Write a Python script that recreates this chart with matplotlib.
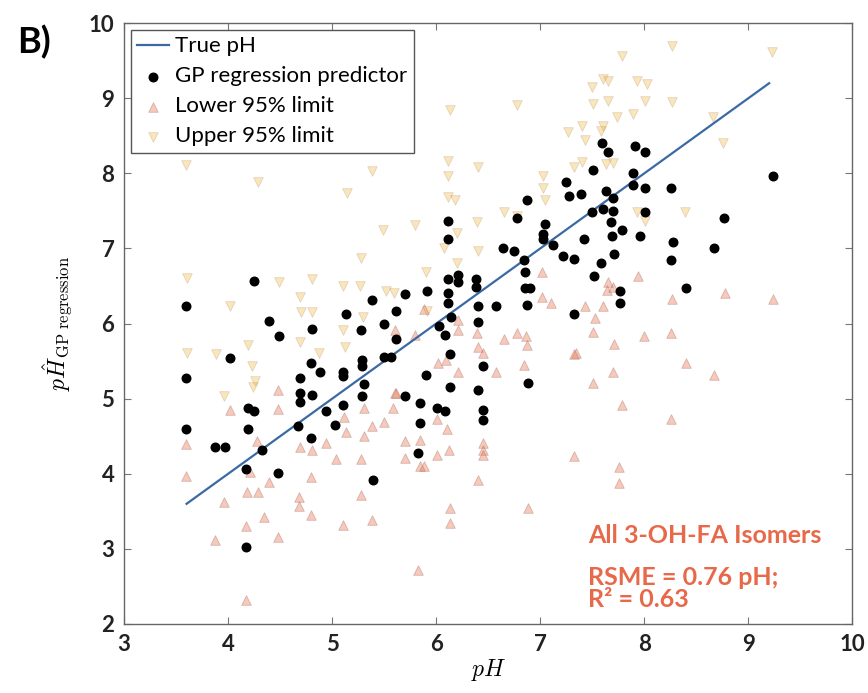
import matplotlib
matplotlib.use("Agg")
import matplotlib.pyplot as plt

plt.rcParams['mathtext.fontset'] = 'cm'

# true pH line
true_ph = [3.6, 9.2]

# GP regression predictor (black dots)
gp_x = [3.59, 3.59, 3.59, 3.87, 3.97, 4.02, 4.17, 4.17, 4.19, 4.19, 4.25, 4.25, 4.33, 4.39, 4.48,
        4.49, 4.67, 4.69, 4.69, 4.69, 4.80, 4.80, 4.81, 4.81, 4.88, 4.94, 5.03, 5.10, 5.10, 5.10,
        5.13, 5.28, 5.29, 5.29, 5.31, 5.29, 5.38, 5.39, 5.50, 5.50, 5.57, 5.61, 5.61, 5.70, 5.70,
        5.84, 5.84, 5.82, 5.90, 5.91, 6.01, 6.08, 6.03, 6.08, 6.11, 6.11, 6.11, 6.11, 6.11, 6.14,
        6.13, 6.13, 6.21, 6.21, 6.38, 6.38, 6.40, 6.40, 6.45, 6.40, 6.45, 6.45, 6.57, 6.64, 6.75,
        6.78, 6.87, 6.84, 6.85, 6.85, 6.90, 6.87, 6.88, 7.05, 7.03, 7.03, 7.12, 7.22, 7.25, 7.28,
        7.32, 7.32, 7.39, 7.42, 7.51, 7.50, 7.52, 7.58, 7.59, 7.60, 7.63, 7.65, 7.68, 7.70, 7.70,
        7.69, 7.71, 7.77, 7.77, 7.79, 7.89, 7.89, 7.91, 7.96, 8.01, 8.01, 8.01, 8.26, 8.28, 8.26,
        8.40, 8.67, 8.77, 9.24]
gp_y = [6.24, 5.28, 4.60, 4.35, 4.35, 5.54, 4.07, 3.03, 4.59, 4.88, 4.84, 6.57, 4.31, 6.03, 4.01,
        5.83, 4.63, 5.27, 5.08, 4.96, 4.48, 5.47, 5.05, 5.93, 5.36, 4.83, 4.65, 5.36, 5.30, 4.91,
        6.13, 5.91, 5.52, 5.43, 5.19, 5.03, 6.32, 3.92, 5.99, 5.56, 5.55, 6.17, 5.79, 6.40, 5.04,
        4.94, 4.68, 4.28, 5.32, 6.44, 4.88, 4.83, 5.97, 5.85, 7.36, 7.13, 6.59, 6.41, 6.28, 6.09,
        5.60, 5.15, 6.64, 6.56, 6.59, 6.49, 6.24, 6.02, 5.43, 5.12, 4.85, 4.71, 6.24, 7.00, 6.96,
        7.40, 7.65, 6.85, 6.69, 6.48, 6.48, 6.25, 5.21, 7.32, 7.19, 7.12, 7.04, 6.90, 7.88, 7.70,
        6.86, 6.13, 7.72, 7.12, 8.04, 7.49, 6.63, 6.81, 8.41, 7.53, 7.77, 8.28, 7.35, 7.67, 7.50,
        7.16, 6.93, 6.43, 6.28, 7.24, 8.00, 7.85, 8.36, 7.16, 8.28, 7.80, 7.49, 7.80, 7.08, 6.84,
        6.47, 7.00, 7.41, 7.96]

# lower 95% limit (up triangles)
lo_x = [3.59, 3.59, 3.96, 3.87, 4.17, 4.17, 4.34, 4.48, 4.39, 4.29, 4.18, 4.21, 4.28, 4.69, 4.81,
        4.94, 4.80, 4.68, 4.68, 4.80, 5.04, 5.28, 5.28, 5.10, 5.38, 5.13, 5.31, 5.11, 4.02, 4.48,
        5.38, 5.60, 5.58, 5.50, 6.10, 6.01, 5.70, 5.84, 5.70, 5.84, 5.88, 6.01, 6.12, 6.45, 6.45,
        6.45, 6.40, 6.13, 6.13, 6.88, 5.82, 7.32, 7.71, 7.34, 7.70, 7.51, 8.40, 8.67, 7.79, 8.26,
        7.76, 7.76, 7.65, 7.64, 7.70, 7.94, 8.27, 8.78, 9.24, 7.43, 7.60, 7.53, 7.51, 8.00, 8.26,
        7.02, 7.02, 7.10, 6.65, 6.78, 6.86, 6.87, 6.84, 7.32, 6.39, 6.40, 6.21, 6.21, 6.45, 6.57,
        6.09, 6.02, 6.21, 5.88, 5.60, 5.80, 5.61, 4.48, 5.31]
lo_y = [4.39, 3.97, 3.63, 3.12, 3.31, 2.32, 3.43, 3.16, 3.89, 3.76, 3.76, 4.03, 4.43, 4.36, 4.32,
        4.41, 3.96, 3.69, 3.57, 3.45, 4.19, 4.19, 3.72, 3.32, 3.39, 4.55, 4.50, 4.75, 4.85, 4.86,
        4.63, 5.08, 4.88, 4.69, 4.59, 4.73, 4.43, 4.45, 4.21, 4.10, 4.10, 4.25, 4.31, 4.41, 4.32,
        4.25, 3.92, 3.55, 3.35, 3.55, 2.72, 4.23, 5.73, 5.61, 5.35, 5.21, 5.47, 5.31, 4.91, 4.73,
        4.09, 3.88, 6.55, 6.45, 6.49, 6.63, 6.33, 6.41, 6.33, 6.23, 6.23, 6.07, 5.89, 5.84, 5.88,
        6.68, 6.36, 6.28, 5.80, 5.88, 5.83, 5.72, 5.45, 5.60, 5.88, 5.69, 6.05, 5.92, 5.61, 5.36,
        5.52, 5.48, 5.35, 6.19, 5.92, 5.85, 5.08, 5.12, 4.88]

# upper 95% limit (down triangles)
up_x = [3.60, 3.60, 3.88, 4.02, 3.96, 4.19, 4.23, 4.26, 4.24, 4.49, 4.81, 4.69, 4.70, 4.81, 4.69,
        4.87, 5.10, 5.27, 5.10, 5.12, 5.28, 5.14, 5.38, 5.30, 6.13, 6.78, 7.27, 6.11, 6.11, 6.40,
        6.11, 6.18, 5.49, 5.80, 6.39, 6.40, 6.20, 6.20, 6.65, 6.78, 7.03, 7.05, 7.03, 7.32, 7.40,
        5.90, 5.59, 5.52, 5.91, 8.27, 7.79, 9.23, 7.60, 7.65, 7.93, 8.03, 7.50, 7.65, 7.51, 8.01,
        8.27, 7.89, 7.74, 7.40, 7.60, 7.58, 7.43, 8.76, 7.63, 7.70, 8.39, 7.93, 8.01, 6.07, 8.66,
        3.59, 4.29]
up_y = [6.61, 5.61, 5.59, 6.24, 5.04, 5.72, 5.44, 5.23, 5.15, 6.55, 6.59, 6.35, 6.16, 6.15, 5.76,
        5.61, 6.50, 6.50, 5.91, 5.69, 6.87, 7.74, 8.03, 6.09, 8.84, 8.91, 8.55, 8.16, 7.96, 8.08,
        7.68, 7.65, 7.25, 7.31, 7.35, 6.96, 7.21, 6.81, 7.48, 7.43, 7.81, 7.65, 7.96, 8.08, 8.15,
        6.69, 6.41, 6.43, 6.17, 9.69, 9.56, 9.61, 9.25, 9.23, 9.23, 9.19, 9.15, 8.96, 8.92, 8.96,
        8.95, 8.79, 8.75, 8.63, 8.63, 8.56, 8.45, 8.41, 8.12, 8.14, 7.49, 7.49, 7.36, 7.01, 8.75,
        8.11, 7.88]

fig = plt.figure(figsize=(8.68, 6.93), dpi=100)
ax = fig.add_axes([0.143, 0.0996, 0.839, 0.867])

ax.scatter(up_x, up_y, marker='v', s=48, color='#EDB120', alpha=0.3,
           edgecolors='#b08060', linewidths=0.6, label='Upper 95% limit')
ax.scatter(lo_x, lo_y, marker='^', s=48, color='#E8734A', alpha=0.38,
           edgecolors='#a06060', linewidths=0.6, label='Lower 95% limit')
line, = ax.plot(true_ph, true_ph, color='#3a6aa3', lw=1.6, label='True pH')
ax.scatter(gp_x, gp_y, s=38, color='black', zorder=3, label='GP regression predictor')

ax.set_xlim(3, 10)
ax.set_ylim(2, 10)
ax.set_xticks(range(3, 11))
ax.set_yticks(range(2, 11))
ax.tick_params(direction='in', top=True, right=True, length=5, width=0.8,
               color='#777777', labelsize=16, pad=7)
for lab in ax.get_xticklabels() + ax.get_yticklabels():
    lab.set_family('Lato')
    lab.set_fontweight('bold')
    lab.set_color('#222222')
for sp in ax.spines.values():
    sp.set_color('#666666')
    sp.set_linewidth(1.0)

ax.set_xlabel('$pH$', fontsize=17, labelpad=2)
ax.set_ylabel(r'$p\hat{H}_{\mathrm{GP\ regression}}$', fontsize=17, labelpad=10)

h, l = ax.get_legend_handles_labels()
order = [l.index('True pH'), l.index('GP regression predictor'),
         l.index('Lower 95% limit'), l.index('Upper 95% limit')]
leg = ax.legend([h[i] for i in order], [l[i] for i in order], loc='upper left',
                fancybox=False, framealpha=1, edgecolor='#555555', borderaxespad=0.3,
                prop={'family': 'Lato', 'size': 16}, handlelength=1.4, handletextpad=0.3,
                labelspacing=0.45, borderpad=0.3)
leg.get_frame().set_linewidth(1.0)

ax.text(0.637, 0.148, 'All 3-OH-FA Isomers', transform=ax.transAxes, color='#E8694A',
        fontsize=18, family='Lato', fontweight='bold', va='center')
ax.text(0.637, 0.077, 'RSME = 0.76 pH;', transform=ax.transAxes, color='#E8694A',
        fontsize=18, family='Lato', fontweight='bold', va='center')
ax.text(0.637, 0.040, 'R² = 0.63', transform=ax.transAxes, color='#E8694A',
        fontsize=18, family='Lato', fontweight='bold', va='center')

fig.text(0.02, 0.94, 'B)', fontsize=26, family='Lato', fontweight='bold', va='center')

fig.savefig('out.png', dpi=100)
